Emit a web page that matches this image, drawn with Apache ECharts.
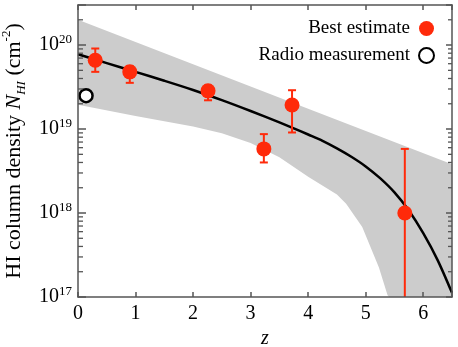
<!DOCTYPE html>
<html>
<head>
<meta charset="utf-8">
<script src="https://cdn.jsdelivr.net/npm/echarts@6/dist/echarts.min.js"></script>
<style>
  html, body { margin: 0; padding: 0; background: #fff; }
  #chart { width: 458px; height: 347px; }
</style>
</head>
<body>
<div id="chart"></div>
<script>
// best-fit curve
var curveZ = [0, 0.5, 1, 1.5, 2, 2.5, 3, 3.5, 3.75, 4, 4.25, 4.5, 4.75, 5, 5.25, 5.5, 5.75, 6, 6.25, 6.5];
var curveN = [7.76e19, 6.1e19, 4.79e19, 3.76e19, 2.92e19, 2.21e19, 1.64e19, 1.2e19, 1.02e19, 8.61e18,
  7.24e18, 5.89e18, 4.68e18, 3.59e18, 2.6e18, 1.76e18, 1.07e18, 5.75e17, 2.75e17, 1.12e17];
// grey band edges
var upperZ = [0, 2, 4, 6.5];
var upperN = [2.0e20, 5.9e19, 1.74e19, 3.8e18];
var lowerZ = [0, 1, 2, 2.5, 3, 3.5, 4, 4.5, 4.66, 4.94, 5.23, 5.38, 5.41, 6.5];
var lowerN = [1.95e19, 1.43e19, 1.07e19, 8.9e18, 6.8e18, 4.6e18, 2.7e18, 1.66e18, 1.29e18,
  6.8e17, 2.24e17, 1.05e17, 1.0e17, 1.0e17];
// best estimate points with error bars
var bestZ = [0.30, 0.90, 2.26, 3.23, 3.72, 5.68];
var bestN = [6.6e19, 4.8e19, 2.85e19, 5.8e18, 1.93e19, 1.0e18];
var errHi = [9.1e19, 5.6e19, 3.3e19, 8.7e18, 2.9e19, 5.8e18];
var errLo = [4.8e19, 3.55e19, 2.2e19, 4.0e18, 9.1e18, 1.0e17];
// radio measurement
var radioZ = [0.14];
var radioN = [2.5e19];
// axes
var yMin = 1e17, yMax = 3e20;
var minorMant = [2, 3, 4, 5, 6, 7, 8, 9];
var minorDecades = [1e17, 1e18, 1e19, 1e20];

var FONT = "'Liberation Serif', 'DejaVu Serif', serif";
var RED = '#ff2a0a';
var AXIS = '#555';

var minorVals = [];
minorDecades.forEach(function (d) {
  minorMant.forEach(function (m) {
    if (m * d < yMax) minorVals.push([0, m * d]);
  });
});

var myChart = echarts.init(document.getElementById('chart'));

function supLabel(v) {
  var l = Math.log10(v);
  var e = Math.round(l);
  if (Math.abs(l - e) > 0.01) return '';
  return '{b|10}{s|' + e + '}';
}

function tick(len) {
  return { show: true, inside: true, length: len, lineStyle: { color: AXIS, width: 1.5 } };
}

var axisCommon = {
  z: 10,
  axisLine: { show: true, onZero: false, lineStyle: { color: AXIS, width: 1.5 } },
  splitLine: { show: false }
};

var option = {
  animation: false,
  grid: { left: 78, right: 6, top: 5, bottom: 50, outerBoundsMode: 'none', containLabel: false },
  legend: {
    orient: 'vertical',
    right: 18,
    top: 14,
    align: 'right',
    itemGap: 8,
    itemWidth: 15,
    itemHeight: 15,
    textStyle: { fontFamily: FONT, fontSize: 19, color: '#000', padding: [0, 4, 0, 0] },
    data: [
      { name: 'Best estimate', icon: 'circle' },
      { name: 'Radio measurement', icon: 'circle' }
    ]
  },
  xAxis: [
    Object.assign({}, axisCommon, {
      type: 'value', min: 0, max: 6.5, interval: 1,
      name: 'z', nameLocation: 'middle', nameGap: 30,
      nameTextStyle: { fontFamily: FONT, fontSize: 20, fontStyle: 'italic', color: '#000' },
      axisTick: tick(5),
      axisLabel: {
        margin: 7, fontFamily: FONT, fontSize: 20, color: '#000',
        formatter: function (v) { return v % 1 === 0 ? String(v) : ''; }
      }
    }),
    Object.assign({}, axisCommon, {
      type: 'value', min: 0, max: 6.5, interval: 1, position: 'top',
      axisTick: tick(5),
      axisLabel: { show: false }
    })
  ],
  yAxis: [
    Object.assign({}, axisCommon, {
      type: 'log', logBase: 10, min: yMin, max: yMax,
      name: 'HI column density {i|N}{sub|HI} (cm{sup|-2})',
      nameLocation: 'middle', nameGap: 49,
      nameTextStyle: {
        fontFamily: FONT, fontSize: 22, color: '#000', lineHeight: 28,
        rich: {
          i: { fontFamily: FONT, fontSize: 22, fontStyle: 'italic', color: '#000', lineHeight: 28 },
          sub: { fontFamily: FONT, fontSize: 13, fontStyle: 'italic', color: '#000', lineHeight: 13, verticalAlign: 'bottom' },
          sup: { fontFamily: FONT, fontSize: 13, color: '#000', lineHeight: 13, verticalAlign: 'top' }
        }
      },
      axisTick: tick(8),
      axisLabel: {
        margin: 6, color: '#000',
        formatter: supLabel,
        rich: {
          b: { fontFamily: FONT, fontSize: 20, color: '#000', lineHeight: 24 },
          s: { fontFamily: FONT, fontSize: 13, color: '#000', lineHeight: 13, verticalAlign: 'top' }
        }
      }
    }),
    Object.assign({}, axisCommon, {
      type: 'log', logBase: 10, min: yMin, max: yMax, position: 'right',
      axisTick: tick(6),
      axisLabel: { show: false }
    })
  ],
  series: [
    {
      name: 'band',
      type: 'custom',
      clip: true,
      z: 1,
      silent: true,
      data: [[0, yMin]],
      encode: { x: 0, y: 1 },
      renderItem: function (params, api) {
        var pts = [];
        for (var i = 0; i < upperZ.length; i++) pts.push(api.coord([upperZ[i], upperN[i]]));
        for (var j = lowerZ.length - 1; j >= 0; j--) pts.push(api.coord([lowerZ[j], lowerN[j]]));
        return { type: 'polygon', shape: { points: pts }, style: { fill: '#cccccc' } };
      }
    },
    {
      name: 'fit',
      type: 'line',
      z: 2,
      smooth: 0.3,
      symbol: 'none',
      lineStyle: { color: '#000', width: 2.5 },
      data: curveZ.map(function (z, i) { return [z, curveN[i]]; })
    },
    {
      name: 'errors',
      type: 'custom',
      clip: true,
      z: 3,
      data: bestZ.map(function (z, i) { return [z, errLo[i], errHi[i]]; }),
      encode: { x: 0, y: [1, 2] },
      renderItem: function (params, api) {
        var lo = api.coord([api.value(0), api.value(1)]);
        var hi = api.coord([api.value(0), api.value(2)]);
        var style = { stroke: RED, lineWidth: 2 };
        var kids = [
          { type: 'line', shape: { x1: hi[0], y1: hi[1], x2: lo[0], y2: lo[1] }, style: style },
          { type: 'line', shape: { x1: hi[0] - 4, y1: hi[1], x2: hi[0] + 4, y2: hi[1] }, style: style }
        ];
        if (api.value(1) > yMin) {
          kids.push({ type: 'line', shape: { x1: lo[0] - 4, y1: lo[1], x2: lo[0] + 4, y2: lo[1] }, style: style });
        }
        return { type: 'group', children: kids };
      }
    },
    {
      name: 'minorTicks',
      type: 'custom',
      z: 11,
      silent: true,
      data: minorVals,
      encode: { x: 0, y: 1 },
      renderItem: function (params, api) {
        var p = api.coord([api.value(0), api.value(1)]);
        var cs = params.coordSys;
        var st = { stroke: AXIS, lineWidth: 1.3 };
        return {
          type: 'group', children: [
            { type: 'line', shape: { x1: cs.x, y1: p[1], x2: cs.x + 5, y2: p[1] }, style: st },
            { type: 'line', shape: { x1: cs.x + cs.width - 4, y1: p[1], x2: cs.x + cs.width, y2: p[1] }, style: st }
          ]
        };
      }
    },
    {
      name: 'Best estimate',
      type: 'scatter',
      z: 4,
      symbol: 'circle',
      symbolSize: 15,
      itemStyle: { color: RED, opacity: 1 },
      data: bestZ.map(function (z, i) { return [z, bestN[i]]; })
    },
    {
      name: 'Radio measurement',
      type: 'scatter',
      z: 4,
      symbol: 'circle',
      symbolSize: 13,
      itemStyle: { color: '#fff', borderColor: '#000', borderWidth: 2.5, opacity: 1 },
      data: radioZ.map(function (z, i) { return [z, radioN[i]]; })
    }
  ]
};

myChart.setOption(option);
window.addEventListener('resize', function () {
  myChart.resize();
});
</script>
</body>
</html>
